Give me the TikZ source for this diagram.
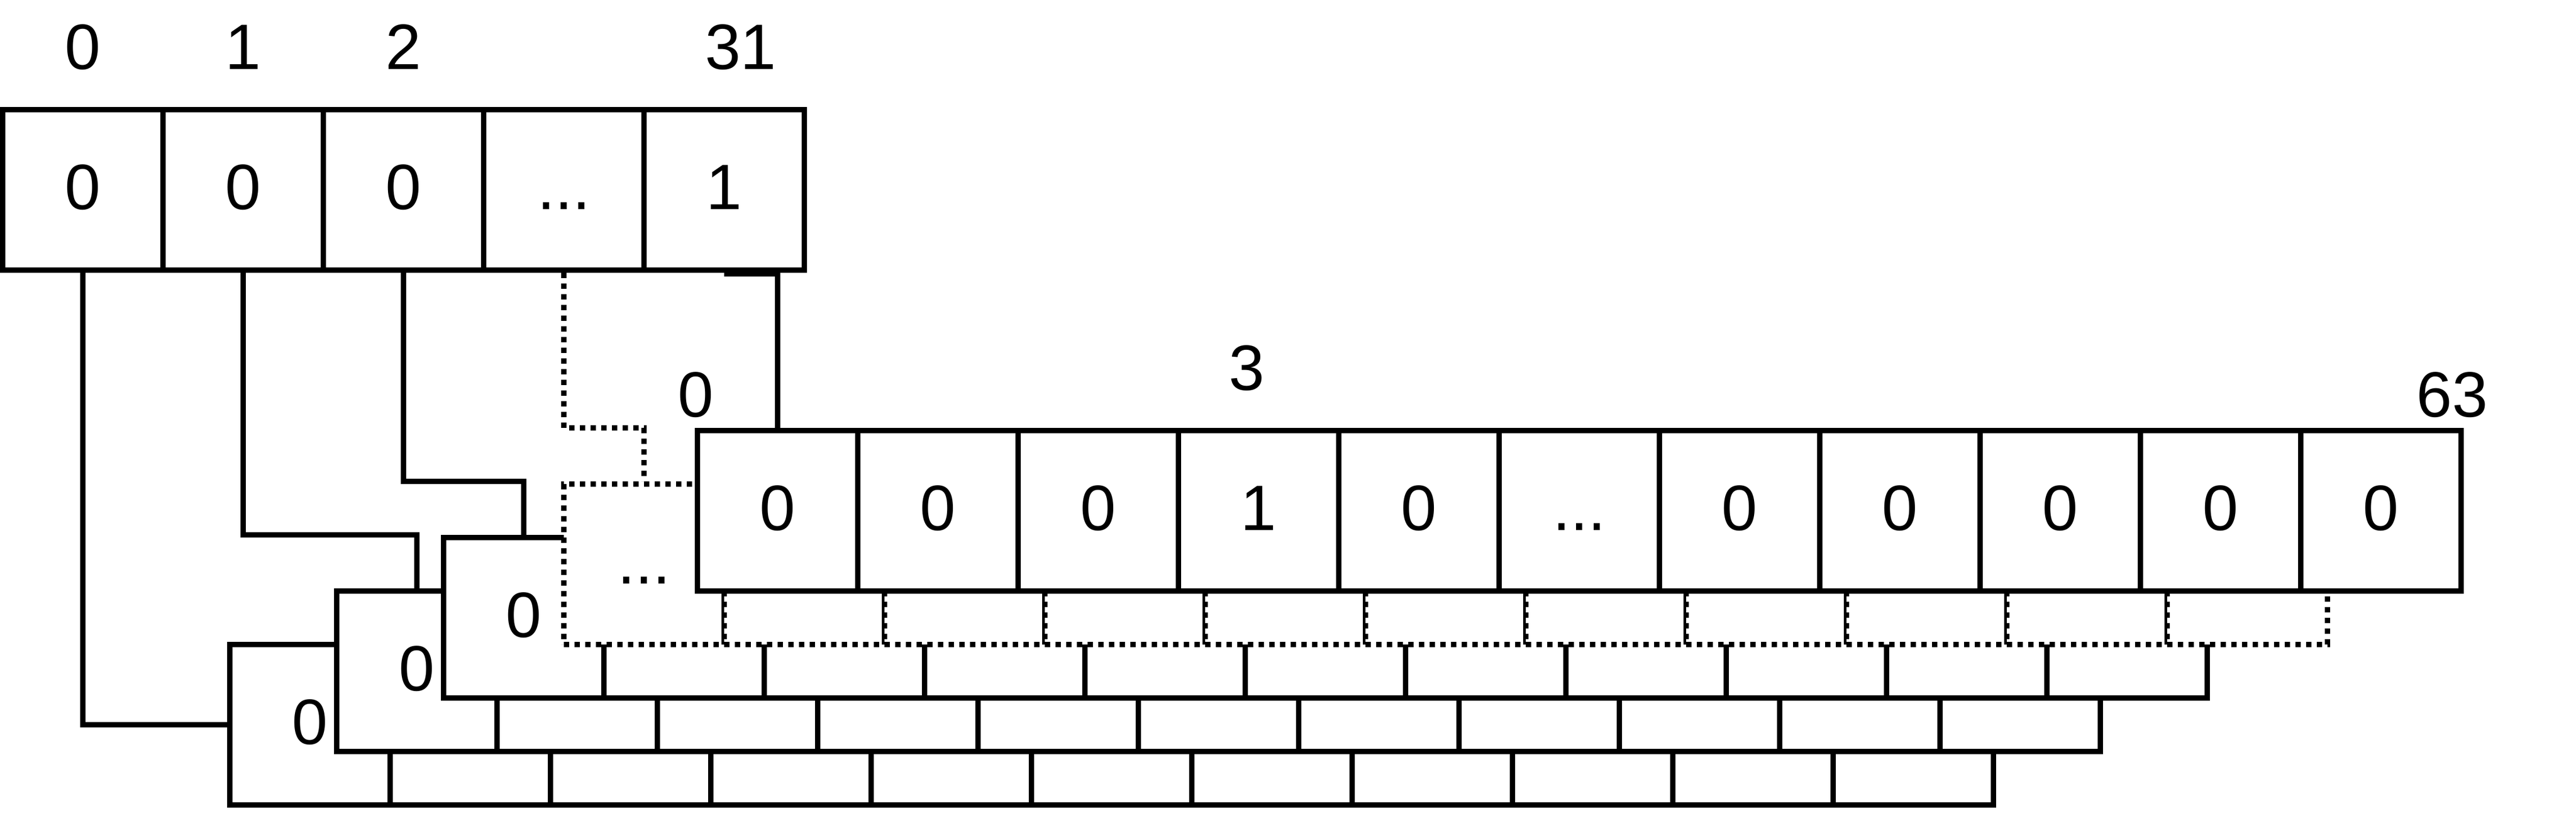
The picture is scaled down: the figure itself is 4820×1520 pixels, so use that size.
\documentclass[tikz,border=0pt]{standalone}
\usepackage{fontspec}
\setmainfont{Liberation Sans}
\newcommand{\etc}{...}
\begin{document}
\begin{tikzpicture}[x=0.25pt,y=-0.25pt,node distance=75pt]
\tikzstyle{bit}=[draw,line width=2.5pt,fill=white,minimum width=75pt,minimum height=75pt,
  inner sep=0pt,font=\fontsize{30}{36}\selectfont,text height=21.5pt,text depth=3.5pt]
\tikzstyle{ghost}=[bit,dash pattern=on 2.5pt off 2.5pt]
\tikzstyle{idx}=[inner sep=0pt,font=\fontsize{30}{36}\selectfont]
\tikzstyle{wire}=[line width=2.5pt]
\useasboundingbox (0,0) rectangle (4820,1520);
% back rows
\foreach \r/\x/\y in {5/580/1355,4/780/1255,3/980/1155} {
  \node[bit] (b\r-0) at (\x,\y) {0};
  \foreach \k [remember=\k as \p (initially 0)] in {1,...,10}
    \node[bit,right of=b\r-\p] (b\r-\k) {};
}
\node[ghost] (d-0) at (1205,1055) {\etc};
\foreach \k [remember=\k as \p (initially 0)] in {1,...,10}
  \node[ghost,right of=d-\p] (d-\k) {};
% front row
\node[bit] (f-0) at (1455,955) {0};
\foreach \v [count=\k, remember=\k as \p (initially 0)] in {0,0,1,0,\etc,0,0,0,0,0}
  \node[bit,right of=f-\p] (f-\k) {\v};
% top row
\node[bit] (t-0) at (155,355) {0};
\foreach \v [count=\k, remember=\k as \p (initially 0)] in {0,0,\etc,1}
  \node[bit,right of=t-\p] (t-\k) {\v};
\node[idx] (i0) at (155,88) {0};
\node[idx] (i1) at (455,88) {1};
\node[idx] (i2) at (755,88) {2};
\node[idx] (i31) at (1386,88) {31};
\node[idx] (j0) at (1302,738) {0};
\node[idx] (j3) at (2333,688) {3};
\node[idx] (j63) at (4588,738) {63};
% links
\draw[wire] (t-0.south) |- (b5-0.west);
\draw[wire] (t-1.south) -- (t-1.south |- b3-0.north) -| (b4-0.north);
\draw[wire] (t-2.south) -- (t-2.south |- d-0.north) -| (b3-0.north);
\draw[wire,dash pattern=on 2.5pt off 2.5pt] (t-3.south) -- (t-3.south |- f-0.north) -| (d-0.north);
\draw[wire] ([yshift=-0.6pt]t-4.south) -| (f-0.north);
\end{tikzpicture}
\end{document}
